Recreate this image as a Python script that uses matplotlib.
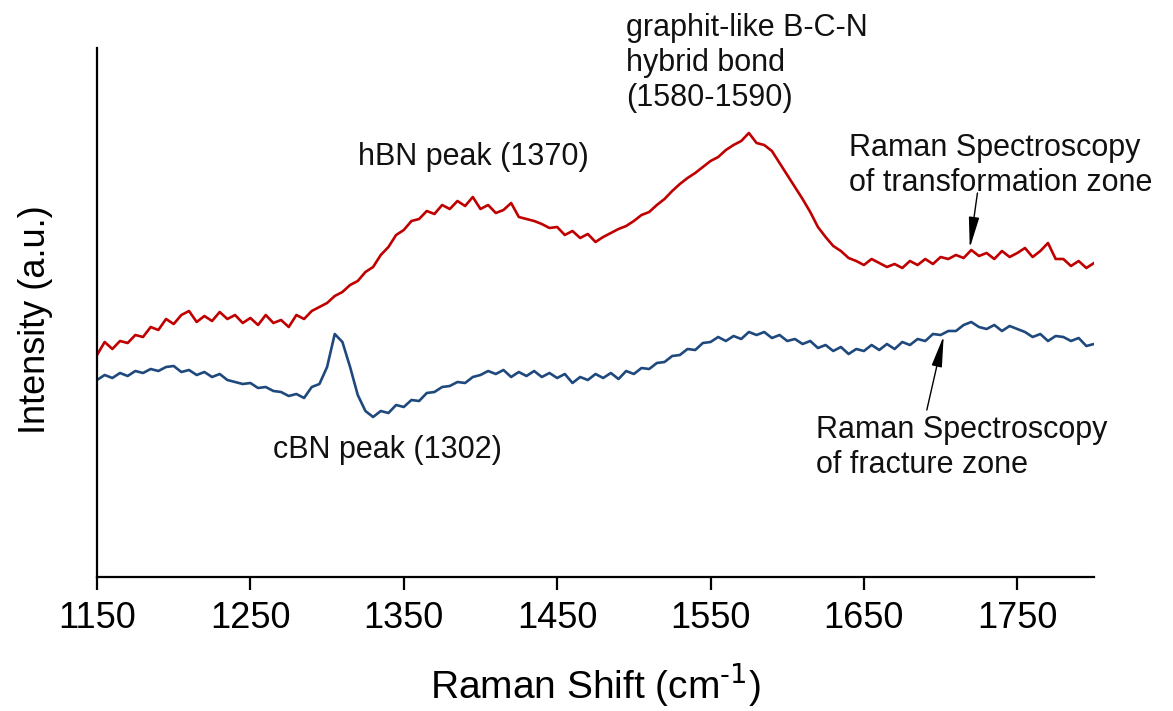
import numpy as np
import matplotlib
matplotlib.use("Agg")
import matplotlib.pyplot as plt

plt.rcParams["font.family"] = ["Liberation Sans", "DejaVu Sans"]

# Raman shift grid (cm-1), 5 cm-1 steps
shift = np.arange(1150, 1801, 5)

# transformation zone (red), intensity in a.u.
transformation = [
    222, 235, 228, 236, 234, 242, 240, 250, 247, 258,
    253, 262, 266, 255, 261, 256, 265, 258, 262, 254,
    259, 252, 262, 254, 257, 250, 262, 258, 266, 270,
    274, 281, 285, 292, 296, 305, 310, 322, 330, 342,
    347, 356, 358, 366, 363, 372, 368, 376, 371, 380,
    368, 372, 364, 367, 374, 360, 358, 356, 353, 349,
    350, 342, 346, 339, 343, 335, 340, 344, 348, 351,
    356, 362, 365, 372, 378, 386, 393, 399, 404, 410,
    416, 420, 427, 432, 436, 444, 434, 432, 426, 414,
    402, 390, 378, 365, 350, 340, 331, 326, 319, 316,
    312, 318, 314, 310, 313, 309, 316, 312, 318, 313,
    320, 318, 322, 319, 327, 321, 324, 318, 326, 320,
    324, 329, 320, 326, 334, 318, 318, 311, 316, 309,
    314,
]

# fracture zone (blue), intensity in a.u.
fracture = [
    197, 202, 199, 204, 201, 206, 204, 208, 206, 210,
    211, 205, 207, 202, 205, 200, 203, 197, 195, 193,
    194, 189, 190, 186, 185, 181, 183, 179, 190, 193,
    210, 243, 235, 210, 182, 166, 160, 166, 164, 172,
    170, 177, 176, 184, 185, 190, 191, 195, 194, 200,
    202, 206, 203, 207, 200, 205, 201, 206, 200, 204,
    199, 203, 194, 200, 197, 203, 199, 204, 198, 206,
    203, 209, 208, 214, 215, 221, 222, 228, 227, 234,
    235, 240, 236, 241, 238, 245, 242, 245, 239, 242,
    236, 238, 233, 236, 229, 232, 226, 230, 223, 228,
    226, 232, 227, 233, 228, 235, 232, 238, 236, 243,
    242, 246, 246, 252, 255, 250, 248, 252, 246, 251,
    248, 245, 240, 243, 236, 241, 240, 236, 239, 231,
    233,
]

xticks = [1150, 1250, 1350, 1450, 1550, 1650, 1750]

fig = plt.figure(figsize=(11.73, 7.11), dpi=100)
ax = fig.add_axes([97 / 1173, 1 - 577 / 711, (1094 - 97) / 1173, (577 - 48) / 711])

ax.plot(shift, transformation, color="#C00000", lw=1.9)
ax.plot(shift, fracture, color="#1F497D", lw=1.9)

ax.set_xlim(1150, 1800)
ax.set_ylim(0, 529)
ax.set_xticks(xticks)
ax.set_yticks([])
ax.spines["top"].set_visible(False)
ax.spines["right"].set_visible(False)
ax.spines["left"].set_linewidth(1.6)
ax.spines["bottom"].set_linewidth(1.6)
ax.tick_params(axis="x", direction="out", length=9.5, width=1.6, labelsize=26, pad=8)

ax.set_xlabel(r"Raman Shift (cm$^{\text{-1}}$)", fontsize=28, labelpad=18)
ax.set_ylabel("Intensity (a.u.)", fontsize=26)
ax.yaxis.set_label_coords(-0.044, 0.486)

txt = dict(fontsize=22, color="#111111", linespacing=1.22)
ax.text(1495, 564, "graphit-like B-C-N\nhybrid bond\n(1580-1590)", va="top", ha="left",
        clip_on=False, **txt)
ax.text(1320, 412, "hBN peak (1370)", va="baseline", ha="left", **txt)
ax.text(1264.5, 119, "cBN peak (1302)", va="baseline", ha="left", **txt)

arrow = dict(arrowstyle="-|>,head_length=1.9,head_width=0.32", color="black", lw=1.0,
             shrinkA=0, shrinkB=0)
ax.annotate("", xy=(1719, 329), xytext=(1724, 384), arrowprops=arrow)
ax.annotate("", xy=(1702, 241), xytext=(1691, 167), arrowprops=arrow)
ax.text(1640.5, 444, "Raman Spectroscopy\nof transformation zone", va="top", ha="left", **txt)
ax.text(1619, 162, "Raman Spectroscopy\nof fracture zone", va="top", ha="left", **txt)

fig.savefig("out.png", dpi=100)
